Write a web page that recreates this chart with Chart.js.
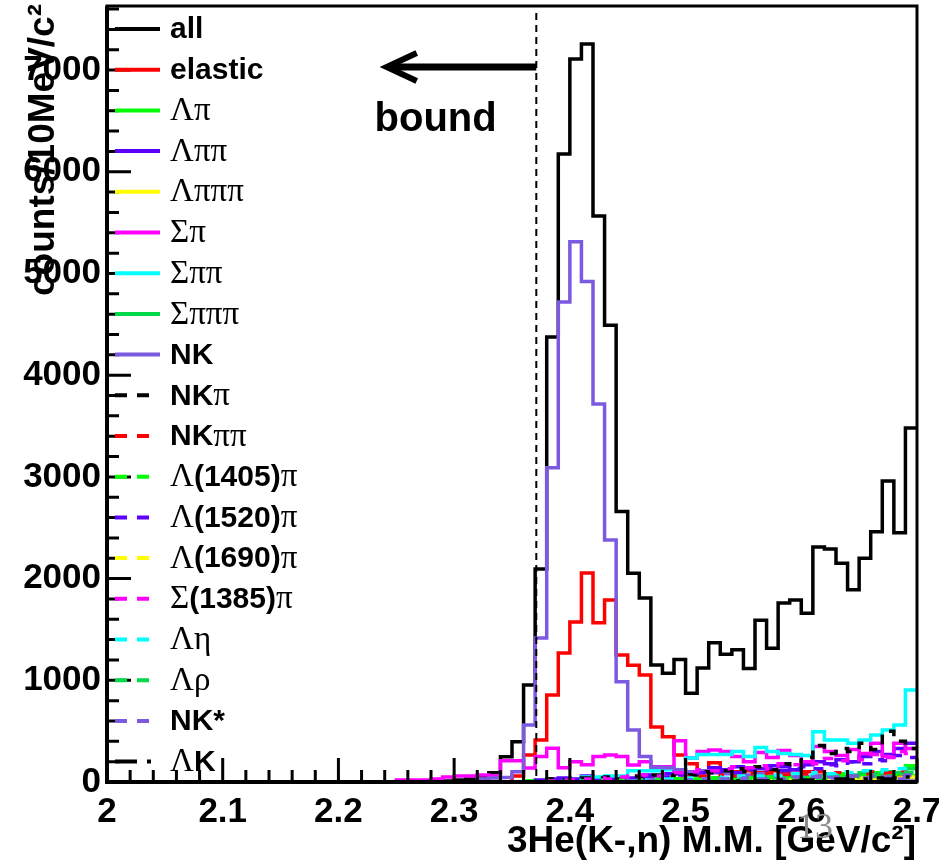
<!DOCTYPE html>
<html lang="en">
<head>
<meta charset="UTF-8">
<title>3He(K-,n) missing mass</title>
<script src="https://cdn.jsdelivr.net/npm/chart.js@4"></script>
<style>
  html, body { margin: 0; padding: 0; background: #fff; }
  #wrap { width: 939px; height: 866px; }
</style>
</head>
<body>
<div id="wrap"><canvas id="mm" width="939" height="866"></canvas></div>
<script>
// 10 MeV/c^2 bins, 2.00 .. 2.70 GeV/c^2
const binStart = 2.0;
const binWidth = 0.01;
const nBins = 70;

const xTickValues = [2.0, 2.1, 2.2, 2.3, 2.4, 2.5, 2.6, 2.7];
const xTickLabels = ['2', '2.1', '2.2', '2.3', '2.4', '2.5', '2.6', '2.7'];
const yTickValues = [0, 1000, 2000, 3000, 4000, 5000, 6000, 7000];
const yTickLabels = ['0', '1000', '2000', '3000', '4000', '5000', '6000', '7000'];

const seriesNames = ['all', 'elastic', 'Λπ', 'Λππ', 'Λπππ', 'Σπ', 'Σππ', 'Σπππ', 'NK',
  'NKπ', 'NKππ', 'Λ(1405)π', 'Λ(1520)π', 'Λ(1690)π', 'Σ(1385)π', 'Λη', 'Λρ', 'NK*', 'ΛK'];

// counts per bin, one row = 0.1 GeV/c^2
const allCounts = [
  0,0,0,0,0,0,0,0,0,0,
  0,0,0,0,0,0,0,0,0,0,
  0,0,0,0,0,0,0,0,10,10,
  20,30,59,92,249,396,954,2094,4375,6175,
  7110,7257,5565,4490,2660,2052,1810,1150,1070,1205,
  872,1120,1368,1255,1300,1115,1590,1315,1760,1790,
  1660,2310,2290,2150,1890,2200,2460,2960,2450,3480
];
const elasticCounts = [
  0,0,0,0,0,0,0,0,0,0,
  0,0,0,0,0,0,0,0,0,0,
  0,0,0,0,0,0,0,0,0,0,
  0,0,0,0,0,60,265,413,855,1268,
  1573,2055,1566,1790,1249,1147,1052,540,446,265,
  180,100,190,120,100,110,90,110,80,120,
  100,60,80,70,60,50,70,60,50,60
];
const lamPiCounts = [
  0,0,0,0,0,0,0,0,0,0,
  0,0,0,0,0,0,0,0,0,0,
  0,0,0,0,0,0,0,0,0,0,
  0,0,0,0,0,0,10,0,10,20,
  10,20,10,20,30,20,30,20,40,30,
  20,30,40,30,50,40,30,50,40,60,
  50,40,70,80,60,70,90,100,80,160
];
const lamPiPiCounts = [
  0,0,0,0,0,0,0,0,0,0,
  0,0,0,0,0,0,0,0,0,0,
  0,0,0,0,0,0,0,0,0,0,
  0,0,0,0,0,0,0,20,30,40,
  30,60,30,40,50,40,70,60,80,100,
  90,110,140,120,150,140,130,160,150,120,
  170,200,180,220,200,250,300,270,330,380
];
const lamPi3Counts = [
  0,0,0,0,0,0,0,0,0,0,
  0,0,0,0,0,0,0,0,0,0,
  0,0,0,0,0,0,0,0,0,0,
  0,0,0,0,0,0,0,0,0,0,
  0,0,0,0,0,0,0,0,0,0,
  0,0,0,0,0,10,0,10,0,10,
  10,20,10,20,30,40,20,50,40,60
];
const sigPiCounts = [
  0,0,0,0,0,0,0,0,0,0,
  0,0,0,0,0,0,0,0,0,0,
  0,0,0,0,0,20,20,20,30,50,
  60,60,70,60,210,210,137,250,333,140,
  200,170,250,266,250,167,200,150,150,405,
  236,300,315,300,250,200,290,240,310,260,
  200,350,300,260,320,280,380,250,380,330
];
const sigPiPiCounts = [
  0,0,0,0,0,0,0,0,0,0,
  0,0,0,0,0,0,0,0,0,0,
  0,0,0,0,0,0,0,0,0,0,
  0,0,0,0,0,0,0,0,0,0,
  0,50,50,60,60,110,110,110,120,110,
  236,270,270,270,300,250,340,300,280,270,
  260,495,413,413,380,413,462,511,560,905
];
const sigPi3Counts = [
  0,0,0,0,0,0,0,0,0,0,
  0,0,0,0,0,0,0,0,0,0,
  0,0,0,0,0,0,0,0,0,0,
  0,0,0,0,0,0,0,0,0,0,
  0,0,0,0,0,10,0,10,10,10,
  20,10,20,30,20,30,20,40,30,50,
  40,50,60,50,70,90,80,100,90,130
];
const nkCounts = [
  0,0,0,0,0,0,0,0,0,0,
  0,0,0,0,0,0,0,0,0,0,
  0,0,0,0,0,0,0,0,0,0,
  0,0,30,40,45,100,560,1416,3090,4720,
  5313,4920,3717,2380,986,511,250,145,140,120,
  100,110,90,80,90,70,80,60,70,60,
  50,60,50,40,50,40,50,40,30,40
];
const nkPiCounts = [
  0,0,0,0,0,0,0,0,0,0,
  0,0,0,0,0,0,0,0,0,0,
  0,0,0,0,0,0,0,0,0,0,
  0,0,0,0,0,0,0,10,30,20,
  30,40,40,50,30,60,50,70,60,80,
  70,100,90,110,130,100,150,120,180,150,
  240,360,280,330,300,380,320,500,400,330
];
const nkPiPiCounts = [
  0,0,0,0,0,0,0,0,0,0,
  0,0,0,0,0,0,0,0,0,0,
  0,0,0,0,0,0,0,0,0,0,
  0,0,0,0,0,0,0,0,0,0,
  0,0,0,0,0,10,20,30,20,40,
  50,60,40,70,60,80,50,90,70,60,
  80,100,70,90,60,80,100,90,110,80
];
const lam1405Counts = [
  0,0,0,0,0,0,0,0,0,0,
  0,0,0,0,0,0,0,0,0,0,
  0,0,0,0,0,0,0,0,0,0,
  0,0,0,0,0,0,10,20,10,10,
  20,10,20,10,20,30,20,30,20,30,
  30,20,40,30,20,40,30,50,40,30,
  40,50,30,60,50,40,60,50,70,60
];
const lam1520Counts = [
  0,0,0,0,0,0,0,0,0,0,
  0,0,0,0,0,0,0,0,0,0,
  0,0,0,0,0,0,0,0,0,0,
  0,0,0,0,0,0,0,0,0,0,
  0,0,10,20,20,30,40,60,50,70,
  80,90,100,110,90,120,100,140,110,130,
  150,130,170,160,200,180,220,210,260,240
];
const lam1690Counts = [
  0,0,0,0,0,0,0,0,0,0,
  0,0,0,0,0,0,0,0,0,0,
  0,0,0,0,0,0,0,0,0,0,
  0,0,0,0,0,0,0,0,0,0,
  0,0,0,0,0,0,0,0,0,0,
  0,0,0,10,0,10,0,10,20,10,
  20,10,30,20,30,40,20,40,30,50
];
const sig1385Counts = [
  0,0,0,0,0,0,0,0,0,0,
  0,0,0,0,0,0,0,0,0,0,
  0,0,0,0,0,0,0,0,0,0,
  0,0,0,0,0,0,0,0,10,20,
  20,30,40,30,50,60,70,60,80,90,
  100,120,110,130,150,140,160,130,180,170,
  200,180,230,210,250,220,270,240,300,280
];
const lamEtaCounts = [
  0,0,0,0,0,0,0,0,0,0,
  0,0,0,0,0,0,0,0,0,0,
  0,0,0,0,0,0,0,0,0,0,
  0,0,0,0,0,0,0,0,0,0,
  0,0,0,0,10,10,20,20,30,30,
  40,30,50,40,60,50,60,70,60,80,
  70,90,80,100,90,110,100,120,130,140
];
const lamRhoCounts = [
  0,0,0,0,0,0,0,0,0,0,
  0,0,0,0,0,0,0,0,0,0,
  0,0,0,0,0,0,0,0,0,0,
  0,0,0,0,0,0,0,0,0,0,
  0,0,0,0,0,0,0,0,0,0,
  0,10,0,10,20,10,20,30,20,30,
  40,30,50,40,60,50,70,60,80,90
];
const nkStarCounts = [
  0,0,0,0,0,0,0,0,0,0,
  0,0,0,0,0,0,0,0,0,0,
  0,0,0,0,0,0,0,0,0,0,
  0,0,0,0,0,0,0,0,0,0,
  0,0,0,0,0,10,10,20,10,20,
  20,30,20,30,30,40,30,40,30,50,
  40,50,40,50,60,40,60,50,60,70
];
const lamKCounts = [
  0,0,0,0,0,0,0,0,0,0,
  0,0,0,0,0,0,0,0,0,0,
  0,0,0,0,0,0,0,0,0,0,
  0,0,0,0,0,0,0,0,0,0,
  0,0,0,0,0,0,0,0,0,0,
  0,0,0,0,10,0,10,10,20,10,
  20,10,20,30,20,30,40,30,40,50
];

// annotation (data units)
const boundEdge = 2.371;
const arrowTipX = 2.240;
const arrowY = 7030;
const boundTextX = 2.284;
const boundTextY = 6510;

const seriesCounts = [allCounts, elasticCounts, lamPiCounts, lamPiPiCounts, lamPi3Counts,
  sigPiCounts, sigPiPiCounts, sigPi3Counts, nkCounts, nkPiCounts, nkPiPiCounts,
  lam1405Counts, lam1520Counts, lam1690Counts, sig1385Counts, lamEtaCounts,
  lamRhoCounts, nkStarCounts, lamKCounts];

const colors = ['#000000', '#ff0000', '#00ff00', '#5b00ff', '#ffff00', '#ff00ff', '#00ffff',
  '#00d94a', '#7b5ae0', '#000000', '#ff0000', '#00ff00', '#5b00ff', '#ffff00', '#ff00ff',
  '#00ffff', '#00d94a', '#7b5ae0', '#000000'];
const dashSolid = [];
const dashLong = [10, 10];
const dashDot = [22, 10, 4, 10];
const dashes = [dashSolid, dashSolid, dashSolid, dashSolid, dashSolid, dashSolid, dashSolid,
  dashSolid, dashSolid, dashLong, dashLong, dashLong, dashLong, dashLong, dashLong,
  dashLong, dashLong, dashLong, dashDot];

const binEdges = [];
for (let i = 0; i <= nBins; i++) binEdges.push(+(binStart + i * binWidth).toFixed(3));

function histPoints(vals) {
  const pts = vals.map((v, i) => ({ x: binEdges[i], y: v }));
  pts.push({ x: binEdges[nBins], y: vals[nBins - 1] });
  return pts;
}

const datasets = seriesNames.map((name, i) => ({
  label: name,
  data: histPoints(seriesCounts[i]),
  borderColor: colors[i],
  borderWidth: 3.5,
  borderDash: dashes[i],
  borderJoinStyle: 'miter',
  borderCapStyle: 'butt',
  stepped: true,
  fill: false,
  pointRadius: 0,
  clip: false,
  order: 100 - i
}));

const SANS = '"Liberation Sans", Arial, sans-serif';
const SERIF = '"Liberation Serif", "Times New Roman", serif';

// split a label into runs: greek letters in serif, rest bold sans
function labelRuns(text) {
  const runs = [];
  for (const ch of text) {
    const greek = 'ΛΣπηρ'.includes(ch);
    const last = runs[runs.length - 1];
    if (last && last.greek === greek) last.text += ch;
    else runs.push({ text: ch, greek });
  }
  return runs;
}

const rootStyle = {
  id: 'rootStyle',
  afterDatasetsDraw(chart) {
    const { ctx, chartArea: a, scales: { x, y } } = chart;
    ctx.save();

    // frame
    ctx.strokeStyle = '#000';
    ctx.setLineDash([]);
    ctx.lineWidth = 3;
    ctx.strokeRect(a.left, a.top, a.right - a.left, a.bottom - a.top);
    ctx.lineWidth = 4;
    ctx.beginPath();
    ctx.moveTo(a.left, a.top);
    ctx.lineTo(a.left, a.bottom);
    ctx.lineTo(a.right, a.bottom);
    ctx.stroke();

    // inward ticks
    ctx.lineWidth = 3;
    ctx.beginPath();
    for (let v = 0; v <= y.max; v += 200) {
      const py = y.getPixelForValue(v);
      const len = v % 1000 === 0 ? 24 : 12;
      ctx.moveTo(a.left, py);
      ctx.lineTo(a.left + len, py);
    }
    for (let i = 0; i <= 35; i++) {
      const px = x.getPixelForValue(binStart + i * 0.02);
      const len = i % 5 === 0 ? 24 : 12;
      ctx.moveTo(px, a.bottom);
      ctx.lineTo(px, a.bottom - len);
    }
    ctx.stroke();

    // threshold line
    const bx = x.getPixelForValue(boundEdge);
    ctx.lineWidth = 2;
    ctx.setLineDash([7, 5]);
    ctx.beginPath();
    ctx.moveTo(bx, a.top + 7);
    ctx.lineTo(bx, a.bottom);
    ctx.stroke();
    ctx.setLineDash([]);

    // arrow
    const ay = y.getPixelForValue(arrowY);
    const tx = x.getPixelForValue(arrowTipX);
    ctx.lineWidth = 7;
    ctx.beginPath();
    ctx.moveTo(bx, ay);
    ctx.lineTo(tx + 4, ay);
    ctx.stroke();
    ctx.lineWidth = 6;
    ctx.lineJoin = 'miter';
    ctx.beginPath();
    ctx.moveTo(tx + 32, ay - 14);
    ctx.lineTo(tx + 2, ay);
    ctx.lineTo(tx + 32, ay + 14);
    ctx.stroke();

    ctx.fillStyle = '#000';
    ctx.font = 'bold 40px ' + SANS;
    ctx.textAlign = 'center';
    ctx.textBaseline = 'middle';
    ctx.fillText('bound', x.getPixelForValue(boundTextX), y.getPixelForValue(boundTextY));

    // legend
    ctx.textAlign = 'left';
    seriesNames.forEach((name, i) => {
      const ly = a.top + 23 + i * 40.7;
      ctx.strokeStyle = colors[i];
      ctx.lineWidth = 4;
      ctx.setLineDash(dashes[i] === dashSolid ? [] : [12, 10]);
      if (dashes[i] === dashDot) ctx.setLineDash([22, 10, 4, 10]);
      ctx.beginPath();
      ctx.moveTo(a.left + 8, ly);
      ctx.lineTo(a.left + (dashes[i] === dashSolid ? 53 : 44), ly);
      ctx.stroke();
      let tx0 = a.left + 63;
      ctx.fillStyle = '#000';
      for (const run of labelRuns(name)) {
        ctx.font = run.greek ? '33px ' + SERIF : 'bold 30px ' + SANS;
        ctx.fillText(run.text, tx0, ly + 1);
        tx0 += ctx.measureText(run.text).width;
      }
    });
    ctx.setLineDash([]);

    // axis titles
    ctx.font = 'bold 37px ' + SANS;
    ctx.textAlign = 'right';
    ctx.textBaseline = 'alphabetic';
    ctx.fillText('3He(K-,n) M.M. [GeV/c²]', a.right - 1, 852);

    ctx.save();
    ctx.translate(54, a.top - 2);
    ctx.rotate(-Math.PI / 2);
    ctx.fillText('counts/10MeV/c²', 0, 0);
    ctx.restore();

    // slide number
    ctx.font = '36px ' + SERIF;
    ctx.fillStyle = '#8c8c8c';
    ctx.textAlign = 'center';
    ctx.fillText('13', 815, 838);

    ctx.restore();
  }
};

const tickFont = { family: SANS, weight: 'bold', size: 35 };

new Chart(document.getElementById('mm').getContext('2d'), {
  type: 'line',
  data: { datasets: datasets },
  options: {
    responsive: false,
    animation: false,
    layout: { padding: { top: 6, right: 22, left: 0, bottom: 0 } },
    plugins: { legend: { display: false }, tooltip: { enabled: false } },
    elements: { point: { radius: 0 } },
    scales: {
      x: {
        type: 'linear',
        min: 2.0,
        max: 2.7,
        grid: { display: false, drawTicks: false },
        border: { display: false },
        afterBuildTicks: s => { s.ticks = xTickValues.map(v => ({ value: v })); },
        ticks: {
          autoSkip: false,
          maxRotation: 0,
          padding: 9,
          color: '#000',
          font: tickFont,
          callback: (v, i) => xTickLabels[i]
        },
        afterFit: s => { s.height = 84; s.paddingLeft = 0; s.paddingRight = 0; }
      },
      y: {
        type: 'linear',
        min: 0,
        max: 7630,
        grid: { display: false, drawTicks: false },
        border: { display: false },
        afterBuildTicks: s => { s.ticks = yTickValues.map(v => ({ value: v })); },
        ticks: {
          autoSkip: false,
          padding: 6,
          color: '#000',
          font: tickFont,
          callback: (v, i) => yTickLabels[i]
        },
        afterFit: s => { s.width = 107; s.paddingTop = 0; s.paddingBottom = 0; }
      }
    }
  },
  plugins: [rootStyle]
});
</script>
</body>
</html>
